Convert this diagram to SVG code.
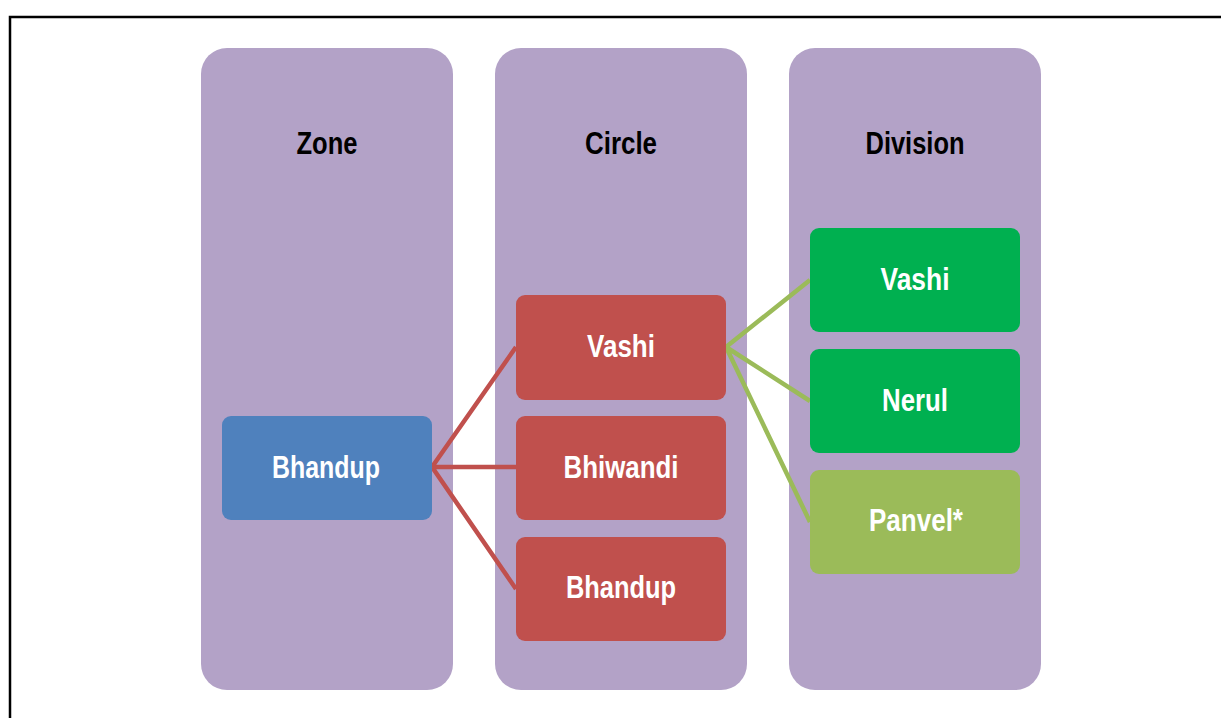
<svg xmlns="http://www.w3.org/2000/svg" width="1221" height="718" viewBox="0 0 1221 718">
<style>
.col{fill:#B3A2C7}
.hdr{font-family:"Liberation Sans",Arial,sans-serif;font-weight:bold;font-size:31px;fill:#000;text-anchor:middle}
.lbl{font-family:"Liberation Sans",Arial,sans-serif;font-weight:bold;font-size:31px;fill:#fff;text-anchor:middle}
.red{stroke:#C0504D;stroke-width:4.5;fill:none}
.grn{stroke:#9BBB59;stroke-width:4.5;fill:none}
</style>
<rect x="0" y="0" width="1221" height="718" fill="#fff"/>
<rect x="10" y="17" width="1230" height="720" fill="none" stroke="#000" stroke-width="2.5"/>
<g id="col-zone"><rect class="col" x="201" y="48" width="252" height="642" rx="26"/><text class="hdr" x="327" y="154" textLength="61" lengthAdjust="spacingAndGlyphs">Zone</text></g>
<g id="col-circle"><rect class="col" x="495" y="48" width="252" height="642" rx="26"/><text class="hdr" x="621" y="154" textLength="72" lengthAdjust="spacingAndGlyphs">Circle</text></g>
<g id="col-division"><rect class="col" x="789" y="48" width="252" height="642" rx="26"/><text class="hdr" x="915" y="154" textLength="99" lengthAdjust="spacingAndGlyphs">Division</text></g>
<g id="connectors">
<path class="red" d="M432,467 L516,347 M432,467 L516,467 M432,467 L516,589"/>
<path class="grn" d="M726,347 L810,280 M726,347 L810,401 M726,347 L810,522"/>
</g>
<g id="zone-bhandup"><rect x="222" y="416" width="210" height="104" rx="9" fill="#4F81BD"/><text class="lbl" x="326" y="478" textLength="108" lengthAdjust="spacingAndGlyphs">Bhandup</text></g>
<g id="circle-vashi"><rect x="516" y="295" width="210" height="105" rx="9" fill="#C0504D"/><text class="lbl" x="621" y="357" textLength="68" lengthAdjust="spacingAndGlyphs">Vashi</text></g>
<g id="circle-bhiwandi"><rect x="516" y="416" width="210" height="104" rx="9" fill="#C0504D"/><text class="lbl" x="621" y="478" textLength="115" lengthAdjust="spacingAndGlyphs">Bhiwandi</text></g>
<g id="circle-bhandup"><rect x="516" y="537" width="210" height="104" rx="9" fill="#C0504D"/><text class="lbl" x="621" y="598" textLength="110" lengthAdjust="spacingAndGlyphs">Bhandup</text></g>
<g id="div-vashi"><rect x="810" y="228" width="210" height="104" rx="9" fill="#00B050"/><text class="lbl" x="915" y="290" textLength="69" lengthAdjust="spacingAndGlyphs">Vashi</text></g>
<g id="div-nerul"><rect x="810" y="349" width="210" height="104" rx="9" fill="#00B050"/><text class="lbl" x="915" y="411" textLength="66" lengthAdjust="spacingAndGlyphs">Nerul</text></g>
<g id="div-panvel"><rect x="810" y="470" width="210" height="104" rx="9" fill="#9BBB59"/><text class="lbl" x="916" y="531" textLength="94" lengthAdjust="spacingAndGlyphs">Panvel*</text></g>
</svg>
